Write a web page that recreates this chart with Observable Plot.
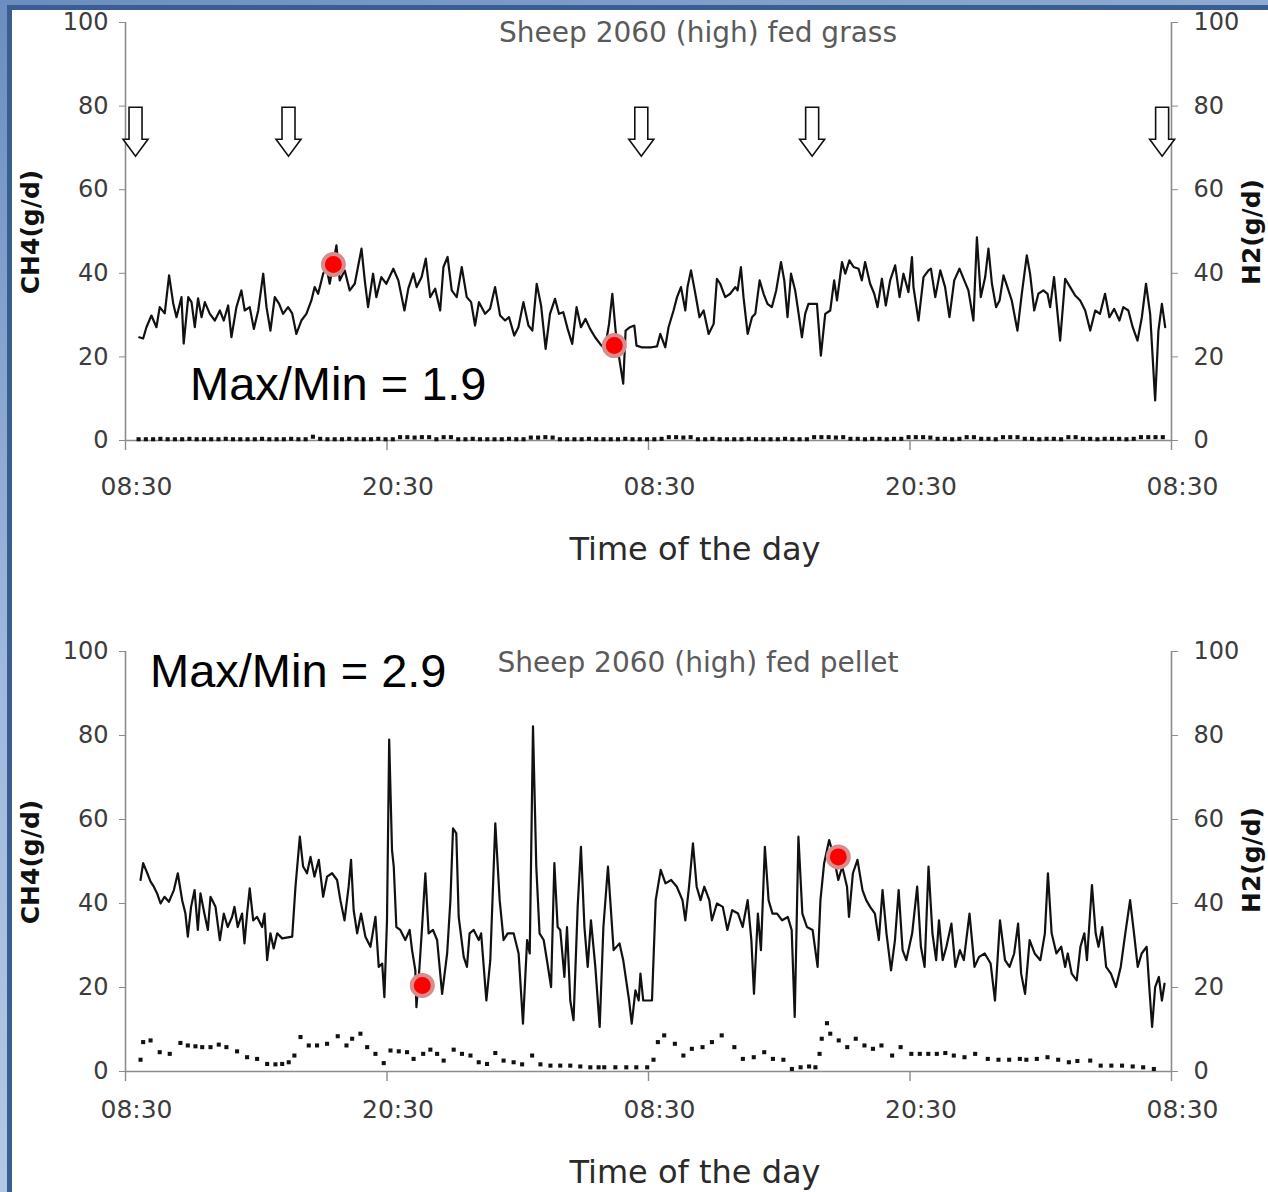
<!DOCTYPE html>
<html>
<head>
<meta charset="utf-8">
<script src="https://cdn.jsdelivr.net/npm/d3@7"></script>
<script src="https://cdn.jsdelivr.net/npm/@observablehq/plot@0.6"></script>
<style>
html, body { margin: 0; padding: 0; }
body { width: 1268px; height: 1192px; position: relative; overflow: hidden;
  background: linear-gradient(160deg, #6b8dbf 0%, #9fb8dc 40%, #c3d5ec 100%);
  font-family: "DejaVu Sans", sans-serif; }
#sheet { position: absolute; left: 7px; top: 5px; width: 1300px; height: 1230px; background: #fff;
  border-left: 5px solid #3b5e92; border-top: 5px solid #3b5e92; }
.abs { position: absolute; white-space: nowrap; }
.center { transform: translate(-50%, -50%); }
.title { font-family: "DejaVu Sans", sans-serif; font-size: 28px; color: #5a5a5a; }
.xlab { font-family: "DejaVu Sans", sans-serif; font-size: 32px; color: #2a2a2a; }
.ylab { font-family: "DejaVu Sans", sans-serif; font-weight: bold; font-size: 25px; color: #111;
  transform: translate(-50%, -50%) rotate(-90deg); }
.ratio { font-family: "Liberation Sans", Arial, sans-serif; font-size: 47px; line-height: 1; color: #000; }
.plot { position: absolute; left: 0; }
</style>
</head>
<body>
<div id="sheet"></div>
<div id="chart1" class="plot" style="top:0px"></div>
<div id="chart2" class="plot" style="top:630px"></div>

<div class="abs center title" style="left:698px; top:32px">Sheep 2060 (high) fed grass</div>
<div class="abs center title" style="left:698px; top:662px">Sheep 2060 (high) fed pellet</div>
<div class="abs center xlab" style="left:695px; top:549px">Time of the day</div>
<div class="abs center xlab" style="left:695px; top:1172px">Time of the day</div>
<div class="abs ylab" style="left:30px; top:232px">CH4(g/d)</div>
<div class="abs ylab" style="left:30px; top:862px">CH4(g/d)</div>
<div class="abs ylab" style="left:1251px; top:232px">H2(g/d)</div>
<div class="abs ylab" style="left:1251px; top:860px">H2(g/d)</div>
<div class="abs ratio" style="left:190px; top:360px">Max/Min = 1.9</div>
<div class="abs ratio" style="left:150px; top:647px">Max/Min = 2.9</div>

<script>
// ---------- axis ticks ----------
const yTicks = [0, 20, 40, 60, 80, 100];
const xTickHours = [0, 12, 24, 36, 48];           // hours after 08:30 on day 1
const xTickLabels = ["08:30", "20:30", "08:30", "20:30", "08:30"];

// ---------- Sheep 2060 fed grass ----------
const grassHours = [0.63,0.81,0.96,1.19,1.42,1.57,1.80,2.00,2.19,2.34,2.57,2.67,2.88,3.03,3.18,3.33,3.49,3.64,3.87,4.10,4.33,4.51,4.71,4.86,5.09,5.32,5.47,5.70,5.89,6.09,6.32,6.47,6.65,6.85,7.05,7.23,7.46,7.65,7.84,8.07,8.30,8.53,8.68,8.84,9.07,9.22,9.37,9.68,9.83,10.06,10.29,10.52,10.83,10.98,11.13,11.36,11.51,11.74,11.97,
12.29,12.52,12.80,12.98,13.21,13.36,13.59,13.78,13.98,14.21,14.44,14.59,14.78,14.97,15.20,15.43,15.66,15.86,16.04,16.22,16.50,16.73,16.96,17.19,17.42,17.60,17.84,18.03,18.26,18.49,18.67,18.87,19.07,19.28,19.48,19.71,19.89,20.09,20.29,20.50,20.70,20.90,21.11,21.32,21.55,21.78,22.00,22.19,22.34,22.49,22.65,22.84,22.95,23.15,23.35,23.45,23.68,24.14,
24.39,24.54,24.77,24.92,25.15,25.31,25.49,25.69,25.79,25.95,26.15,26.34,26.53,26.76,26.99,27.14,27.29,27.52,27.75,27.98,28.09,28.24,28.36,28.55,28.75,28.90,29.10,29.28,29.46,29.66,29.86,30.08,30.23,30.38,30.54,30.73,30.89,31.04,31.19,31.34,31.73,31.91,32.11,32.34,32.52,32.65,32.88,33.03,33.22,33.41,33.64,33.79,33.94,34.17,34.36,34.51,34.71,34.89,35.09,35.32,35.52,35.70,35.93,36.09,
36.16,36.39,36.62,36.85,36.96,37.16,37.39,37.61,37.81,38.03,38.27,38.49,38.68,38.91,39.07,39.25,39.45,39.60,39.76,39.95,40.11,40.29,40.47,40.67,40.93,41.13,41.36,41.51,41.70,41.89,42.12,42.31,42.43,42.61,42.89,43.12,43.35,43.58,43.81,44.04,44.27,44.50,44.72,44.95,45.15,45.37,45.61,45.79,46.02,46.22,46.44,46.64,46.83,47.02,47.25,47.40,47.56,47.71];
const grassCH4 = [24.7,24.4,27.1,29.9,27.1,31.9,30.4,39.5,32.8,29.5,34.3,23.2,34.3,33.1,27.1,34.0,29.5,33.1,30.3,28.7,31.1,28.7,32.3,24.7,31.9,35.9,31.1,31.9,26.7,31.1,39.9,31.9,26.3,34.3,32.7,30.3,31.9,30.4,25.5,28.7,30.3,33.5,36.7,35.1,39.9,41.5,37.5,46.7,38.3,40.7,35.9,37.5,45.9,38.3,31.9,39.9,34.3,39.1,37.5,
41.1,38.3,31.1,36.4,40.0,36.7,39.1,43.5,34.3,36.3,31.1,41.5,43.9,35.9,34.3,41.5,34.3,33.1,27.5,33.1,30.3,31.5,36.7,29.9,28.7,29.5,25.1,27.1,33.1,27.5,26.3,37.5,32.3,21.9,30.3,33.9,30.3,30.7,26.7,23.1,31.9,27.1,29.1,26.7,24.7,23.1,21.9,27.9,35.1,26.3,19.9,13.6,26.3,27.1,27.5,22.7,22.3,22.3,
22.5,25.5,22.3,27.1,31.1,34.3,36.7,31.1,36.7,40.7,35.1,29.5,31.1,25.5,27.9,38.7,37.5,34.3,35.1,36.7,35.9,41.5,34.3,25.5,29.5,30.3,38.3,35.1,32.7,31.9,35.9,42.7,38.3,29.5,39.9,35.9,30.3,24.7,30.3,32.7,32.7,20.3,30.3,31.1,38.3,33.5,42.7,39.9,43.1,41.5,41.1,38.3,42.7,37.5,35.1,31.9,38.7,32.3,38.3,41.9,34.3,39.9,35.5,43.9,
36.7,28.7,39.1,40.7,41.1,34.3,40.7,36.7,29.5,38.3,41.1,38.3,35.9,28.7,48.6,34.3,39.1,45.9,37.5,31.9,33.5,39.5,36.7,33.5,26.3,35.1,44.3,39.9,31.1,35.1,35.9,35.1,31.9,39.1,23.9,38.7,36.7,34.7,33.5,31.1,26.3,31.1,30.3,35.1,29.5,31.5,28.7,31.9,31.1,27.1,23.9,29.5,37.5,30.3,9.6,26.3,32.7,27.1];
// H2 readings every 20 minutes from 09:06
const grassH2Start = 0.6;
const grassH2Step = 1 / 3;
const grassH2 = [0.3,0.3,0.3,0.4,0.3,0.3,0.3,0.4,0.3,0.3, 0.3,0.3,0.4,0.3,0.3,0.3,0.3,0.4,0.3,0.3,
0.3,0.4,0.3,0.3,0.9,0.4,0.3,0.3,0.3,0.4, 0.3,0.3,0.3,0.4,0.3,0.3,0.8,0.8,0.7,0.8,
0.8,0.3,0.8,0.8,0.3,0.3,0.4,0.3,0.3,0.3, 0.3,0.4,0.3,0.3,0.7,0.7,0.8,0.7,0.3,0.3,
0.3,0.3,0.4,0.3,0.3,0.3,0.3,0.4,0.3,0.3, 0.3,0.3,0.4,0.8,0.8,0.7,0.8,0.3,0.3,0.4,
0.3,0.3,0.3,0.3,0.4,0.3,0.3,0.3,0.3,0.4, 0.3,0.3,0.3,0.8,0.8,0.8,0.7,0.8,0.4,0.4,
0.3,0.4,0.4,0.3,0.4,0.4,0.8,0.8,0.8,0.7, 0.4,0.4,0.3,0.4,0.8,0.8,0.4,0.4,0.3,0.8,
0.8,0.8,0.4,0.4,0.3,0.4,0.4,0.3,0.8,0.8, 0.4,0.4,0.3,0.4,0.4,0.4,0.3,0.4,0.8,0.8, 0.8,0.8];
const grassFeedHours = [0.46, 7.48, 23.67, 31.51, 47.57];   // feeding arrows
const grassMarkHours = [9.54, 22.43];                       // max / min markers
const grassMarkCH4 = [42.1, 22.7];

// ---------- Sheep 2060 fed pellet ----------
const pelletHours = [0.69,0.81,1.00,1.15,1.30,1.45,1.61,1.79,1.99,2.22,2.40,2.60,2.75,2.86,3.01,3.17,3.32,3.44,3.62,3.78,3.90,4.13,4.33,4.51,4.69,4.89,5.00,5.15,5.35,5.46,5.58,5.70,5.86,6.04,6.27,6.38,6.50,6.65,6.80,6.96,7.19,7.65,7.80,8.00,8.15,8.33,8.49,8.67,8.87,9.07,9.25,9.48,9.71,9.86,10.05,10.24,10.35,10.47,10.63,10.81,11.01,11.24,11.47,11.62,11.78,11.88,12.00,12.10,12.23,12.31,12.43,12.61,12.84,13.04,13.15,13.30,13.35,13.45,13.61,13.76,13.91,14.11,14.30,14.53,14.76,14.91,15.03,15.18,15.29,15.52,15.67,15.79,15.98,16.21,16.32,16.56,16.74,16.97,17.17,17.35,17.54,17.81,18.04,18.24,18.43,18.55,18.70,18.85,19.00,19.19,19.34,19.53,19.68,19.83,19.95,20.14,20.26,20.41,20.56,20.75,20.90,21.06,21.21,21.36,21.56,21.76,
21.93,22.14,22.40,22.67,22.84,23.11,23.23,23.40,23.55,23.63,23.76,24.16,24.33,24.56,24.78,25.04,25.30,25.56,25.69,25.86,26.04,26.21,26.39,26.56,26.79,26.91,27.14,27.41,27.62,27.84,28.11,28.32,28.55,28.72,28.84,29.02,29.16,29.34,29.51,29.69,29.90,30.13,30.39,30.57,30.71,30.88,31.06,31.27,31.53,31.76,31.89,32.06,32.29,32.50,32.71,32.89,33.11,33.20,33.38,33.59,33.82,33.99,34.17,34.39,34.57,34.74,34.92,35.13,35.31,35.48,35.66,35.83,36.10,36.33,36.50,36.67,36.85,37.03,37.20,37.33,37.50,37.67,37.90,38.08,38.29,38.47,38.73,38.96,39.17,39.43,39.70,39.90,40.13,40.36,40.57,40.78,40.96,41.10,41.28,41.49,41.72,41.98,42.19,42.33,42.50,42.72,42.94,43.12,43.24,43.42,43.65,43.82,44.00,44.12,44.35,44.52,44.65,44.82,45.00,45.22,45.45,45.67,45.88,46.10,46.28,46.45,46.63,46.86,46.98,47.11,47.25,47.42,47.56,47.68];
const pelletCH4 = [45.6,49.6,47.2,45.2,44.0,42.4,40.0,41.6,40.4,43.2,47.2,40.8,37.6,32.1,39.2,43.2,33.7,42.4,37.6,33.7,41.6,39.2,31.3,37.6,34.4,36.8,39.2,34.4,37.6,30.5,37.6,43.6,36.0,36.8,34.4,37.6,26.5,32.9,29.3,32.9,31.7,32.1,44.0,55.9,48.8,47.2,51.1,46.4,50.4,41.6,46.4,47.2,45.6,40.8,36.0,44.0,50.4,38.4,32.9,37.6,32.1,29.7,36.8,24.9,25.7,17.7,36.0,79.0,52.7,48.8,34.4,33.7,31.3,33.7,28.9,24.1,15.3,21.7,34.4,47.2,32.9,33.7,31.3,18.5,28.1,40.8,57.9,56.7,36.8,27.3,24.9,32.9,33.7,31.3,32.9,16.9,26.5,59.1,40.8,31.3,32.9,32.9,28.1,11.4,31.3,28.1,82.2,48.8,32.9,31.3,26.5,20.1,49.6,34.4,33.7,22.5,34.4,16.9,12.2,39.2,53.5,34.4,24.9,36.0,24.9,10.6,
34.4,48.8,28.9,30.5,26.5,16.9,11.4,19.3,16.9,23.3,16.9,16.9,40.8,48.0,44.8,45.6,44.0,40.8,36.0,44.0,54.3,44.0,40.8,44.0,40.8,36.0,40.0,39.2,33.7,38.4,37.6,34.4,40.8,31.3,18.5,37.6,28.9,53.5,40.8,37.6,37.6,36.0,36.8,33.7,13.0,55.9,37.6,34.4,33.7,24.9,40.8,49.6,55.1,51.1,45.6,48.8,44.0,36.8,47.2,50.4,43.2,40.8,39.2,37.6,31.3,43.2,32.9,24.1,31.3,43.2,28.9,26.5,32.9,44.0,29.7,24.9,48.8,32.9,26.5,36.0,26.5,29.7,35.2,24.9,28.9,26.5,37.6,24.9,27.3,28.1,25.7,16.9,36.0,26.5,24.9,28.1,35.2,23.3,18.5,31.3,28.1,26.5,32.9,47.2,32.9,28.1,29.7,24.9,28.1,23.3,21.7,29.7,32.9,26.5,44.4,32.9,29.7,34.4,24.9,23.3,20.1,24.9,32.9,40.8,32.9,24.9,28.1,29.7,20.1,10.6,20.1,22.5,16.9,20.9];
const pelletH2Hours = [0.69,0.81,1.15,1.57,2.03,2.52,2.86,3.21,3.52,3.90,4.28,4.63,5.12,5.58,6.04,6.50,6.88,7.19,7.49,7.75,8.03,8.41,8.79,9.25,9.74,10.14,10.40,10.78,11.09,11.47,11.85,12.16,12.54,12.92,13.22,13.66,13.99,14.30,14.60,15.06,15.44,15.83,16.21,16.59,16.97,17.35,17.81,18.20,18.66,19.04,19.50,19.95,20.41,20.87,21.33,21.71,21.97,22.48,22.98,23.44,23.94,24.23,24.43,24.72,25.21,25.60,25.99,26.48,26.91,27.36,27.94,28.33,28.83,29.31,29.71,30.19,30.58,30.98,31.37,31.66,31.85,31.95,32.19,32.34,32.73,33.12,33.51,33.91,34.30,34.69,35.18,35.57,36.06,36.45,36.84,37.23,37.62,38.01,38.50,38.99,39.57,40.06,40.55,41.04,41.34,41.82,42.31,42.80,43.29,43.68,44.27,44.75,45.24,45.73,46.22,46.70,47.19];
const pelletH2 = [2.8,7.0,7.4,4.6,4.2,6.8,6.2,6.0,5.8,5.8,6.4,5.8,4.8,3.4,3.0,1.8,1.7,1.8,2.2,3.8,8.2,6.2,6.2,6.6,8.4,6.2,7.8,9.0,5.8,4.2,2.0,5.0,4.8,4.6,3.0,4.2,5.2,4.2,2.6,5.2,4.2,3.8,2.2,1.8,4.4,2.6,2.2,1.7,3.8,1.7,1.4,1.4,1.4,1.2,1.0,1.0,1.0,1.0,1.0,1.0,1.0,2.8,7.0,8.6,6.6,3.8,5.4,5.8,7.0,8.6,5.8,3.0,3.4,4.6,3.0,2.8,0.6,1.0,1.2,1.0,4.2,7.8,11.5,9.0,7.4,5.8,7.8,6.2,5.4,6.2,3.8,5.8,4.2,4.2,4.2,4.2,4.4,3.8,3.4,4.2,3.0,2.8,2.8,3.0,2.8,3.0,3.4,2.8,2.2,2.5,2.6,1.4,1.4,1.4,1.2,1.0,0.6];
const pelletMarkHours = [13.62, 32.71];
const pelletMarkCH4 = [20.5, 51.1];

const arrowLevel = 74;   // CH4 level at which feeding arrows are drawn

// ---------- styling ----------
const axisGrey = "#8c8c8c";
const textGrey = "#3c3c3c";

// hollow down-arrow symbol (d3 symbol type)
const arrowSymbol = {
  draw(ctx, size) {
    const s = Math.sqrt(size / Math.PI) / 25;
    const pts = [[-6.5,-24],[6.5,-24],[6.5,8],[12.5,8],[0,25],[-12.5,8],[-6.5,8]];
    ctx.moveTo(pts[0][0] * s, pts[0][1] * s);
    for (let i = 1; i < pts.length; i++) ctx.lineTo(pts[i][0] * s, pts[i][1] * s);
    ctx.closePath();
  }
};

function makeChart({hours, ch4, h2, markH, markV, feed, height, marginTop, marginBottom, tickPad}) {
  const lineData = hours.map((t, i) => ({t, v: ch4[i]}));
  const marks = markH.map((t, i) => ({t, v: markV[i]}));
  const fmt = d => xTickLabels[xTickHours.indexOf(d)];
  const list = [
    Plot.ruleY([0], {stroke: axisGrey, strokeWidth: 1.6}),
    Plot.ruleX([0, 48], {y1: 0, y2: 100, stroke: axisGrey, strokeWidth: 1.6}),
    Plot.axisY({anchor: "left", ticks: yTicks, tickSize: 6, tickPadding: 11, fontSize: 24,
      stroke: axisGrey, fill: textGrey, label: null}),
    Plot.axisY({anchor: "right", ticks: yTicks, tickSize: 6, tickPadding: 16, fontSize: 24,
      stroke: axisGrey, fill: textGrey, label: null}),
    Plot.axisX({ticks: xTickHours, tickSize: 10, stroke: axisGrey, strokeWidth: 1.4, fill: "none", label: null}),
    Plot.axisX({ticks: xTickHours, tickSize: 10, tickPadding: tickPad, stroke: "none", fill: textGrey,
      fontSize: 25, dx: 11, tickFormat: fmt, label: null}),
    Plot.dot(h2, {x: "t", y: "v", symbol: "square", r: 2.3, fill: "#111", stroke: "none"}),
    Plot.line(lineData, {x: "t", y: "v", stroke: "#111", strokeWidth: 2.2, strokeLinejoin: "round"}),
    Plot.dot(marks, {x: "t", y: "v", r: 10.5, fill: "#ff0000", stroke: "#d98c8c", strokeWidth: 4})
  ];
  if (feed) {
    list.push(Plot.dot(feed, {x: d => d, y: arrowLevel, symbol: arrowSymbol, r: 25,
      fill: "white", stroke: "#111", strokeWidth: 1.6}));
  }
  return Plot.plot({
    width: 1268, height, marginLeft: 125, marginRight: 97, marginTop, marginBottom,
    x: {domain: [0, 48]}, y: {domain: [0, 100]},
    style: {background: "transparent", fontFamily: "DejaVu Sans", overflow: "visible"},
    marks: list
  });
}

const grassH2Data = grassH2.map((v, i) => ({t: grassH2Start + i * grassH2Step, v}));
const pelletH2Data = pelletH2Hours.map((t, i) => ({t, v: pelletH2[i]}));

document.getElementById("chart1").appendChild(makeChart({
  hours: grassHours, ch4: grassCH4, h2: grassH2Data, markH: grassMarkHours, markV: grassMarkCH4,
  feed: grassFeedHours, height: 560, marginTop: 22, marginBottom: 120, tickPad: 27
}));
document.getElementById("chart2").appendChild(makeChart({
  hours: pelletHours, ch4: pelletCH4, h2: pelletH2Data, markH: pelletMarkHours, markV: pelletMarkCH4,
  feed: null, height: 562, marginTop: 21, marginBottom: 121, tickPad: 19
}));
</script>
</body>
</html>
